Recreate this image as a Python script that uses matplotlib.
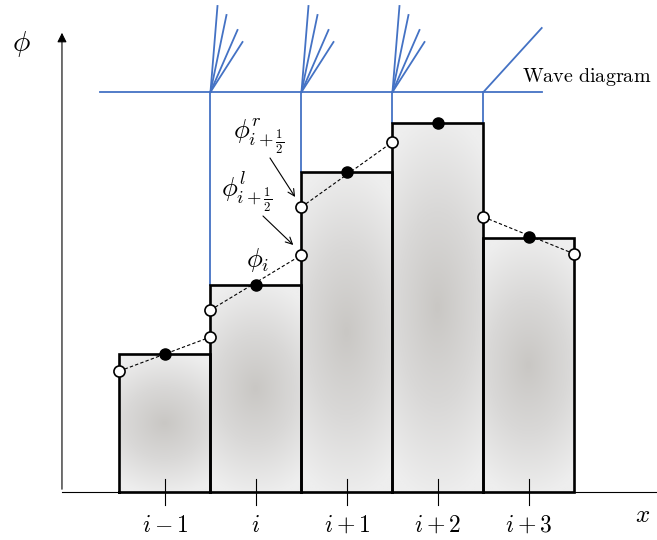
import numpy as np
import matplotlib
matplotlib.use('Agg')
import matplotlib.pyplot as plt
from matplotlib.colors import LinearSegmentedColormap

plt.rcParams['mathtext.fontset'] = 'cm'

# cell data (cell centres at 1..5, unit width)
cell_labels = ['$i-1$', '$i$', '$i+1$', '$i+2$', '$i+3$']
cell_centers = [1, 2, 3, 4, 5]
cell_means = [1.38, 2.07, 3.20, 3.69, 2.54]
# reconstructed face values (None where no reconstruction is drawn)
face_left = [1.21, 1.82, 2.85, None, 2.75]
face_right = [1.55, 2.37, 3.50, None, 2.38]
dot_values = [1.38, 2.07, 3.20, 3.69, 2.55]

# wave diagram: rays from interfaces i-1/2 .. i+5/2 (dx, dy in axis units)
wave_base = 4.0
fan_rays = [(0.077, 0.86), (0.176, 0.77), (0.297, 0.62), (0.352, 0.50)]
shock_ray = [(0.64, 0.64)]
interface_waves = [fan_rays, fan_rays, fan_rays, shock_ray]

fig = plt.figure(figsize=(6.57, 5.4), dpi=100)
ax = fig.add_axes([0, 0, 1, 1])
ax.set_xlim(-0.813, 6.407)
ax.set_ylim(-0.48, 4.92)
ax.axis('off')

# shaded cells
cmap = LinearSegmentedColormap.from_list('cellgrey', ['#c9c7c4', '#d9d8d7', '#eeeeee'])
for xc, h in zip(cell_centers, cell_means):
    xs = np.linspace(xc - 0.5, xc + 0.5, 80)
    ys = np.linspace(0, h, 200)
    X, Y = np.meshgrid(xs, ys)
    r = np.hypot((X - xc) / 0.5 * 0.6, (Y - h / 2) / (h / 2)) / 1.05
    ax.imshow(np.clip(r, 0, 1), extent=[xc - 0.5, xc + 0.5, 0, h], origin='lower',
              cmap=cmap, vmin=0, vmax=1, aspect='auto', zorder=1)
    ax.plot([xc - 0.5, xc - 0.5, xc + 0.5, xc + 0.5, xc - 0.5],
            [0, h, h, 0, 0], color='black', lw=1.9, zorder=3, solid_joinstyle='miter')

# axes with arrows
x0 = -0.132
ax.plot([x0, 6.5], [0, 0], color='black', lw=0.8, zorder=2)
ax.annotate('', xy=(x0, 4.62), xytext=(x0, 0),
            arrowprops=dict(arrowstyle='-|>', color='black', lw=0.8, mutation_scale=14))
ax.annotate('', xy=(6.42, 0), xytext=(6.2, 0),
            arrowprops=dict(arrowstyle='-|>', color='black', lw=0.8, mutation_scale=14))
ax.text(-0.58, 4.48, r'$\phi$', fontsize=21, ha='center', va='center')
ax.text(6.25, -0.23, r'$x$', fontsize=18, ha='center', va='center')

# cell ticks and labels
for xc, lab in zip(cell_centers, cell_labels):
    ax.plot([xc, xc], [0.13, -0.13], color='black', lw=0.8, zorder=4)
    ax.text(xc, -0.33, lab, fontsize=17, ha='center', va='center')

# wave diagram
blue = '#4472c4'
ax.plot([0.29, 5.14], [wave_base, wave_base], color=blue, lw=1.3, zorder=2)
for k, rays in enumerate(interface_waves):
    xf = cell_centers[k] + 0.5
    ax.plot([xf, xf], [wave_base, max(cell_means[k], cell_means[k + 1])],
            color=blue, lw=1.3, zorder=2)
    for dx, dy in rays:
        ax.plot([xf, xf + dx], [wave_base, wave_base + dy], color=blue, lw=1.3, zorder=2)
ax.text(4.92, 4.15, r'$\mathrm{Wave\ diagram}$', fontsize=14.5, ha='left', va='center')

# piecewise-linear reconstruction
for xc, fl, fr, d in zip(cell_centers, face_left, face_right, dot_values):
    if fl is not None:
        ax.plot([xc - 0.5, xc + 0.5], [fl, fr], color='black', lw=0.8,
                dashes=(3, 2), zorder=5)
        ax.plot([xc - 0.5, xc + 0.5], [fl, fr], 'o', ms=8, mfc='white',
                mec='black', mew=1.2, zorder=6, linestyle='none')
    ax.plot(xc, d, 'o', ms=8, color='black', zorder=6)

# annotations
ax.text(2.02, 2.32, r'$\phi_i$', fontsize=19, ha='center', va='center')
ax.text(1.90, 3.0, r'$\phi^l_{i+\frac{1}{2}}$', fontsize=19, ha='center', va='center')
ax.text(2.03, 3.56, r'$\phi^r_{i+\frac{1}{2}}$', fontsize=19, ha='center', va='center')
arrow_kw = dict(arrowstyle='->', color='black', lw=0.8, shrinkA=0, shrinkB=0,
                mutation_scale=12)
ax.annotate('', xy=(2.43, 2.95), xytext=(2.154, 3.34), arrowprops=arrow_kw)
ax.annotate('', xy=(2.41, 2.47), xytext=(2.077, 2.76), arrowprops=arrow_kw)

fig.savefig('out.png', dpi=100)
